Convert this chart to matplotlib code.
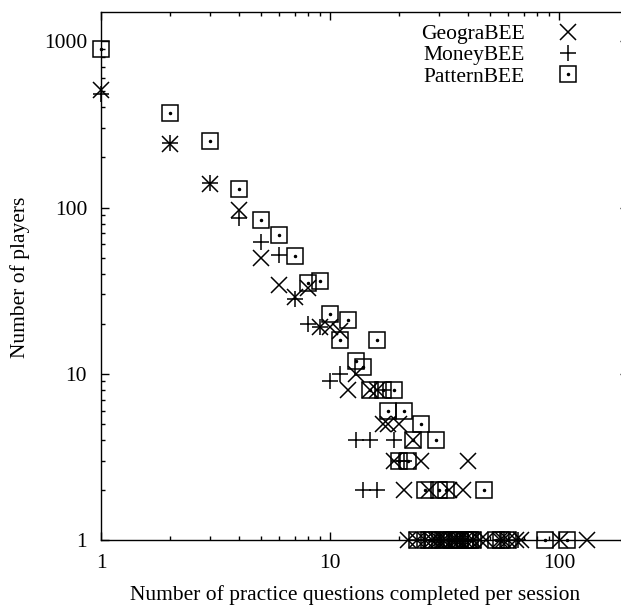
import matplotlib
matplotlib.use('Agg')
import matplotlib.pyplot as plt
from matplotlib.ticker import FuncFormatter, NullFormatter, LogLocator

plt.rcParams['font.family'] = ['Liberation Serif', 'DejaVu Serif']
plt.rcParams['font.size'] = 15.5

# questions completed per session -> number of players
geo_x = [1, 2, 3, 4, 5, 6, 7, 8, 9, 10, 11, 12, 13, 15, 16, 17, 18, 20, 23,
         19, 25, 40, 21, 27, 33, 38,
         22, 24, 26, 28, 29, 30, 31, 32, 34, 35, 36, 37, 39, 41, 42, 45, 48,
         55, 57, 60, 65, 68, 101, 133]
geo_y = [510, 240, 138, 97, 50, 34, 29, 33, 19, 19, 18, 8, 10, 8, 8, 5, 5, 5, 4,
         3, 3, 3, 2, 2, 2, 2,
         1, 1, 1, 1, 1, 1, 1, 1, 1, 1, 1, 1, 1, 1, 1, 1, 1,
         1, 1, 1, 1, 1, 1, 1]

money_x = [1, 2, 3, 4, 5, 6, 7, 8, 9, 10, 11, 13, 15, 19, 14, 16, 20, 21, 17,
           24, 26, 28, 30, 31, 33, 35, 36, 38, 40, 42, 56, 66]
money_y = [480, 245, 140, 87, 62, 52, 28, 20, 19, 9, 10, 4, 4, 4, 2, 2, 3, 3, 8,
           1, 1, 1, 1, 1, 1, 1, 1, 1, 1, 1, 1, 1]

pat_x = [1, 2, 3, 4, 5, 6, 7, 8, 9, 10, 11, 12, 13, 14, 16, 15, 17, 19, 18, 21,
         25, 23, 29, 20, 22, 26, 30, 32, 47,
         24, 27, 28, 31, 33, 34, 35, 36, 37, 39, 40, 41, 42, 53, 56, 60, 87, 108]
pat_y = [900, 370, 250, 130, 84, 68, 51, 35, 36, 23, 16, 21, 12, 11, 16, 8, 8, 8, 6, 6,
         5, 4, 4, 3, 3, 2, 2, 2, 2,
         1, 1, 1, 1, 1, 1, 1, 1, 1, 1, 1, 1, 1, 1, 1, 1, 1, 1]

fig = plt.figure(figsize=(6.21, 6.08), dpi=100)
ax = fig.add_axes([101/621, 68/608, 527/621, 528/608])
ax.set_xscale('log')
ax.set_yscale('log')
ax.set_xlim(1, 200)
ax.set_ylim(1, 1500)

g, = ax.plot(geo_x, geo_y, ls='none', marker='x', ms=11, mew=1.1,
             color='black', clip_on=False)
m, = ax.plot(money_x, money_y, ls='none', marker='+', ms=12, mew=1.1,
             color='black', clip_on=False)
p, = ax.plot(pat_x, pat_y, ls='none', marker='s', ms=11, mfc='none',
             mec='black', mew=1.1, clip_on=False)
pdot, = ax.plot(pat_x, pat_y, ls='none', marker='o', ms=1.5,
                color='black', clip_on=False)

for s in ax.spines.values():
    s.set_linewidth(1.0)

fmt = FuncFormatter(lambda v, pos: '%g' % v)
for axis in (ax.xaxis, ax.yaxis):
    axis.set_major_locator(LogLocator(base=10))
    axis.set_major_formatter(fmt)
    axis.set_minor_formatter(NullFormatter())
ax.tick_params(which='both', direction='in', top=True, right=True, width=1.0)
ax.tick_params(which='major', length=6)
ax.tick_params(which='minor', length=3)
ax.tick_params(axis='y', which='major', pad=10)
ax.tick_params(axis='x', which='major', pad=10)

fig.text(355/621, 1 - 595/608, 'Number of practice questions completed per session',
         ha='center', va='center')
fig.text(20/621, 1 - 277/608, 'Number of players', ha='center', va='center',
         rotation=90)

ax.legend([g, m, (p, pdot)], ['GeograBEE', 'MoneyBEE', 'PatternBEE'],
          loc='upper right', bbox_to_anchor=(578.5/621, 1 - 24/608),
          bbox_transform=fig.transFigure, frameon=False, markerfirst=False,
          handlelength=1.0, handletextpad=1.5, labelspacing=0.06,
          borderpad=0, borderaxespad=0)

fig.savefig('out.png', dpi=100)
